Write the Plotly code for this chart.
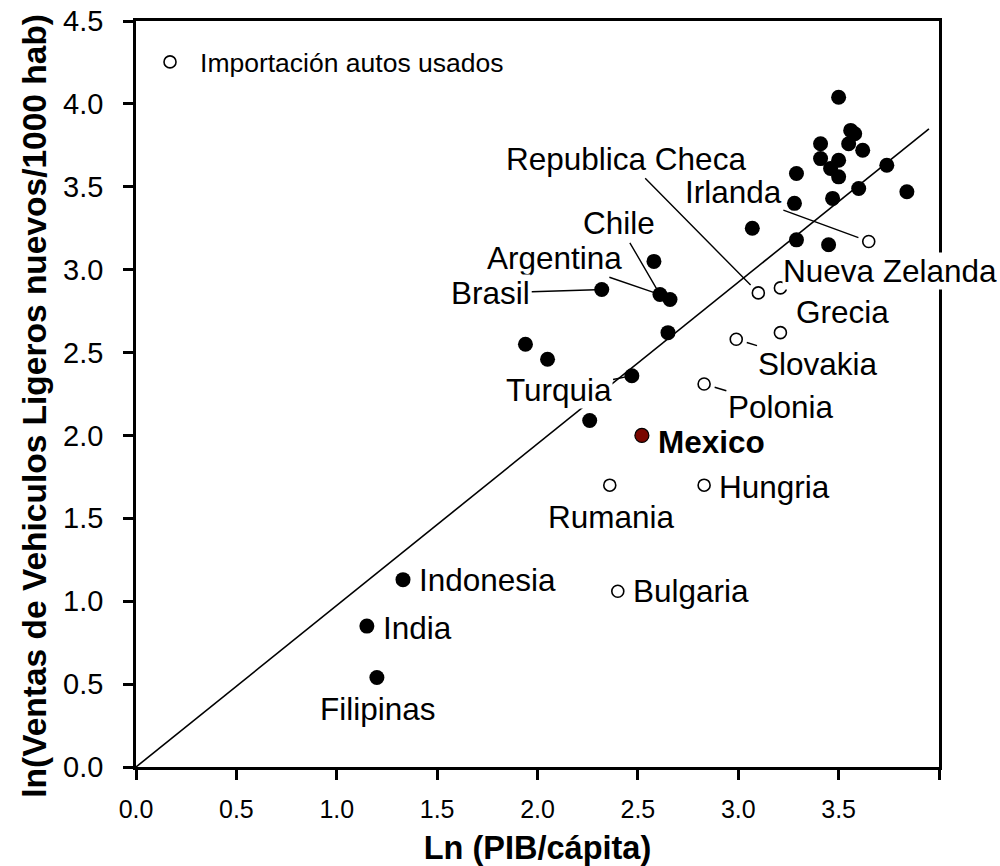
import plotly.graph_objects as go

# ---- data -------------------------------------------------------------
# Countries without used-car imports (filled markers)
gdp_solid = [3.50, 3.56, 3.58, 3.41, 3.55, 3.62, 3.41, 3.50, 3.46, 3.50,
             3.74, 3.29, 3.60, 3.84, 3.47, 3.28, 3.07, 3.29, 3.45,
             2.58, 2.32, 2.61, 2.66, 2.65, 1.94, 2.05, 2.47, 2.26,
             1.33, 1.15, 1.20]
sales_solid = [4.04, 3.84, 3.82, 3.76, 3.76, 3.72, 3.67, 3.66, 3.61, 3.56,
               3.63, 3.58, 3.49, 3.47, 3.43, 3.40, 3.25, 3.18, 3.15,
               3.05, 2.88, 2.85, 2.82, 2.62, 2.55, 2.46, 2.36, 2.09,
               1.13, 0.85, 0.54]

# Countries importing used cars (open markers)
gdp_used = [3.65, 3.10, 3.21, 3.21, 2.99, 2.83, 2.83, 2.36, 2.40]
sales_used = [3.17, 2.86, 2.89, 2.62, 2.58, 2.31, 1.70, 1.70, 1.06]

# Mexico
gdp_mex = [2.52]
sales_mex = [2.00]

# Fitted trend
trend_x = [0.0, 3.95]
trend_y = [0.0, 3.85]

x_ticks = [0.0, 0.5, 1.0, 1.5, 2.0, 2.5, 3.0, 3.5, 4.0]
x_ticktext = ["0.0", "0.5", "1.0", "1.5", "2.0", "2.5", "3.0", "3.5", ""]
y_ticks = [0.0, 0.5, 1.0, 1.5, 2.0, 2.5, 3.0, 3.5, 4.0, 4.5]
y_ticktext = ["0.0", "0.5", "1.0", "1.5", "2.0", "2.5", "3.0", "3.5", "4.0", "4.5"]

# ---- label placement: (text, series, point index, label x, label y, leader)
labels = [
    ("Republica Checa", "used", 1, 2.442, 3.667, True),
    ("Irlanda", "used", 0, 2.976, 3.470, True),
    ("Chile", "solid", 21, 2.404, 3.279, True),
    ("Argentina", "solid", 21, 2.084, 3.068, True),
    ("Brasil", "solid", 20, 1.767, 2.859, True),
    ("Nueva Zelanda", "used", 2, 3.757, 2.993, False),
    ("Grecia", "used", 3, 3.520, 2.746, False),
    ("Slovakia", "used", 4, 3.397, 2.428, True),
    ("Polonia", "used", 5, 3.212, 2.171, True),
    ("Turquia", "solid", 26, 2.105, 2.273, True),
    ("<b>Mexico</b>", "mex", 0, 2.865, 1.961, False),
    ("Hungria", "used", 6, 3.181, 1.690, False),
    ("Rumania", "used", 7, 2.369, 1.509, False),
    ("Bulgaria", "used", 8, 2.765, 1.062, False),
    ("Indonesia", "solid", 28, 1.752, 1.127, False),
    ("India", "solid", 29, 1.401, 0.839, False),
    ("Filipinas", "solid", 30, 1.204, 0.352, False),
]

series = {
    "solid": (gdp_solid, sales_solid),
    "used": (gdp_used, sales_used),
    "mex": (gdp_mex, sales_mex),
}

FONT = "Liberation Sans, Arial, Helvetica, sans-serif"
LABEL_SIZE = 31.5

fig = go.Figure()

fig.add_trace(go.Scatter(
    x=trend_x, y=trend_y, mode="lines",
    line=dict(color="black", width=1.6),
    showlegend=False, hoverinfo="skip",
))

fig.add_trace(go.Scatter(
    x=gdp_solid, y=sales_solid, mode="markers",
    marker=dict(symbol="circle", size=15, color="black",
                line=dict(color="black", width=0)),
    showlegend=False,
))

fig.add_trace(go.Scatter(
    x=gdp_used, y=sales_used, mode="markers",
    name="Importación autos usados",
    marker=dict(symbol="circle", size=12, color="white",
                line=dict(color="black", width=1.6)),
    showlegend=True,
))

fig.add_trace(go.Scatter(
    x=gdp_mex, y=sales_mex, mode="markers",
    marker=dict(symbol="circle", size=14, color="#7a0600",
                line=dict(color="black", width=1.2)),
    showlegend=False,
))

for text, key, idx, lx, ly, leader in labels:
    px, py = series[key][0][idx], series[key][1][idx]
    if leader:
        stand = 11 if key == "used" else 6
        fig.add_annotation(
            x=px, y=py, ax=lx, ay=ly, axref="x", ayref="y",
            text=text, showarrow=True, arrowhead=0, arrowwidth=1.4,
            arrowcolor="black", standoff=stand, startstandoff=1,
            font=dict(family=FONT, size=LABEL_SIZE, color="black"),
            bgcolor="white", borderpad=0,
        )
    else:
        fig.add_annotation(
            x=lx, y=ly, text=text, showarrow=False,
            font=dict(family=FONT, size=LABEL_SIZE, color="black"),
            bgcolor="white", borderpad=0,
        )

# Vertical axis title, set a little below the axis midpoint
fig.add_annotation(
    xref="paper", yref="paper", x=-0.126, y=0.484,
    xanchor="center", yanchor="middle", textangle=-90, showarrow=False,
    text="<b>ln(Ventas de Vehiculos Ligeros nuevos/1000 hab)</b>",
    font=dict(family=FONT, size=33.5, color="black"),
)

axis_common = dict(
    showline=True, linecolor="black", linewidth=2.5, mirror=True,
    ticks="outside", ticklen=10, tickwidth=2.5, tickcolor="black",
    showgrid=False, zeroline=False, automargin=False,
)

fig.update_xaxes(
    range=[0, 4.0], tickvals=x_ticks, ticktext=x_ticktext,
    tickfont=dict(family=FONT, size=25, color="black"),
    ticklabelstandoff=8,
    title=dict(text="<b>Ln (PIB/cápita)</b>",
               font=dict(family=FONT, size=32.5, color="black"), standoff=16),
    **axis_common,
)
fig.update_yaxes(
    range=[0, 4.5], tickvals=y_ticks, ticktext=y_ticktext,
    tickfont=dict(family=FONT, size=29, color="black"),
    ticklabelstandoff=14,
    **axis_common,
)

fig.update_layout(
    width=1000, height=866,
    margin=dict(l=136, r=61, t=21, b=99),
    paper_bgcolor="white", plot_bgcolor="white",
    legend=dict(x=0.005, y=0.977, xanchor="left", yanchor="top",
                itemwidth=50,
                bgcolor="rgba(0,0,0,0)",
                font=dict(family=FONT, size=26.5, color="black")),
)

fig.write_html("out.html")
